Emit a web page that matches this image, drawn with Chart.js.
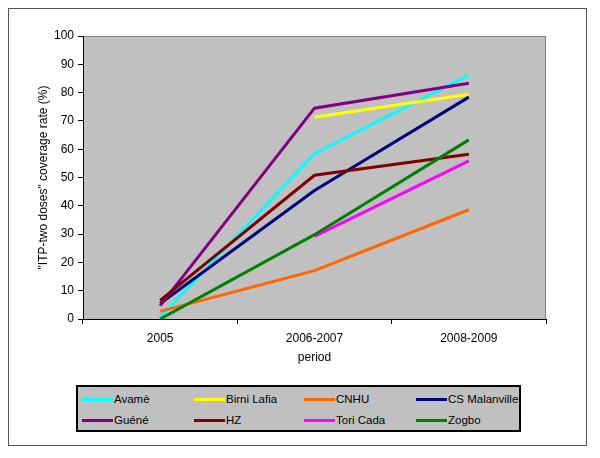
<!DOCTYPE html>
<html>
<head>
<meta charset="utf-8">
<script src="https://cdn.jsdelivr.net/npm/chart.js@4/dist/chart.umd.min.js"></script>
<style>
  body { margin: 0; background: #fff; }
  #wrap { position: relative; width: 600px; height: 458px; }
  #legend {
    position: absolute; left: 76px; top: 385px; width: 441px; height: 43px;
    background: #c0c0c0; border: 2px solid #000;
    font-family: "Liberation Sans", Arial, sans-serif; font-size: 11.5px; color: #000;
  }
  .item { position: absolute; height: 14px; line-height: 14px; white-space: nowrap; }
  .swatch { display: inline-block; width: 31px; height: 3px; vertical-align: middle; margin-right: 1px; }
</style>
</head>
<body>
<div id="wrap">
  <canvas id="chart" width="600" height="458"></canvas>
  <div id="legend"></div>
</div>
<script>
// categories
const periods = ['2005', '2006-2007', '2008-2009'];

// series values (%)
const avame = [0.5, 58.4, 86.2];
const birniLafia = [null, 71.3, 79.4];
const cnhu = [2.7, 17.1, 38.6];
const csMalanville = [5.5, 45.4, 78.4];
const guene = [4.7, 74.5, 83.3];
const hz = [6.6, 50.8, 58.2];
const toriCada = [null, 29.2, 55.9];
const zogbo = [0, 29.8, 63.3];

const seriesNames = ['Avamè', 'Birni Lafia', 'CNHU', 'CS Malanville', 'Guéné', 'HZ', 'Tori Cada', 'Zogbo'];
const seriesValues = [avame, birniLafia, cnhu, csMalanville, guene, hz, toriCada, zogbo];
const seriesColors = ['#00ffff', '#ffff00', '#ff6600', '#000080', '#800080', '#800000', '#ff00ff', '#008000'];

// Function to create a dataset for one site
const createDataset = (label, data, color, i) => ({
  label,
  data,
  borderColor: color,
  backgroundColor: color,
  borderWidth: 3,
  pointRadius: 0,
  fill: false,
  tension: 0,
  order: seriesNames.length - i,
});

// gray plot area + outer frame
const backdrop = {
  id: 'backdrop',
  beforeDraw(chart) {
    const { ctx, chartArea: a } = chart;
    ctx.save();
    ctx.strokeStyle = '#555';
    ctx.lineWidth = 1;
    ctx.strokeRect(8.5, 8.5, 578, 437);
    ctx.fillStyle = '#c0c0c0';
    ctx.fillRect(a.left, a.top, a.right - a.left, a.bottom - a.top);
    ctx.strokeStyle = '#808080';
    ctx.strokeRect(a.left + 0.5, a.top + 0.5, a.right - a.left - 1, a.bottom - a.top);
    ctx.restore();
  }
};

const font = { family: '"Liberation Sans", Arial, sans-serif', size: 12 };

const config = {
  type: 'line',
  data: {
    labels: periods,
    datasets: seriesNames.map((n, i) => createDataset(n, seriesValues[i], seriesColors[i], i)),
  },
  options: {
    responsive: false,
    animation: false,
    layout: { padding: { left: 0, top: 36, right: 54, bottom: 89 } },
    plugins: { legend: { display: false }, tooltip: { enabled: false } },
    scales: {
      x: {
        offset: true,
        grid: { offset: true, drawOnChartArea: false, tickLength: 5, color: '#000' },
        border: { color: '#000', width: 1 },
        ticks: { color: '#000', font, padding: 7, maxRotation: 0 },
        title: { display: true, text: 'period', color: '#000', font, padding: { top: 0, bottom: 4 } },
        afterFit: (s) => { s.height = 50; },
      },
      y: {
        min: 0,
        max: 100,
        grid: { drawOnChartArea: false, tickLength: 5, color: '#000' },
        border: { color: '#000', width: 1 },
        ticks: { stepSize: 10, color: '#000', font, padding: 4 },
        title: { display: true, text: '"ITP-two doses" coverage rate (%)', color: '#000', font, padding: { top: 36, bottom: 0 } },
        afterFit: (s) => { s.width = 83; },
      },
    },
  },
  plugins: [backdrop],
};

new Chart(document.getElementById('chart').getContext('2d'), config);

// legend: 4 columns, 2 rows
const colX = [4, 116, 226, 338];
const rowY = [5, 26];
const legend = document.getElementById('legend');
seriesNames.forEach((n, i) => {
  const el = document.createElement('div');
  el.className = 'item';
  el.style.left = colX[i % 4] + 'px';
  el.style.top = rowY[Math.floor(i / 4)] + 'px';
  el.innerHTML = '<span class="swatch" style="background:' + seriesColors[i] + '"></span>' + n;
  legend.appendChild(el);
});
</script>
</body>
</html>
